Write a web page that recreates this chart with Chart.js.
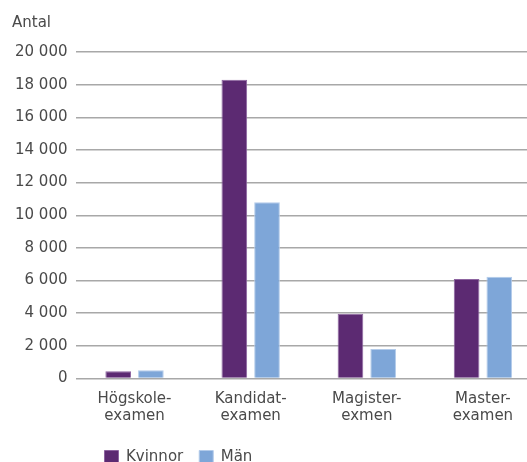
<!DOCTYPE html>
<html>
<head>
<meta charset="utf-8">
<script src="https://cdn.jsdelivr.net/npm/chart.js@4.4.1/dist/chart.umd.min.js"></script>
<style>
  html, body { margin: 0; padding: 0; background: #fff; overflow: hidden; }
  #wrap { width: 527px; height: 462px; overflow: hidden; }
</style>
</head>
<body>
<div id="wrap"><canvas id="chart" width="545" height="462"></canvas></div>
<script>
// Data
const categories = [['Högskole-', 'examen'], ['Kandidat-', 'examen'], ['Magister-', 'exmen'], ['Master-', 'examen']];
const kvinnor = [450, 18300, 3970, 6090];
const man = [510, 10800, 1800, 6240];
const yTicks = [0, 2000, 4000, 6000, 8000, 10000, 12000, 14000, 16000, 18000, 20000];

const textColor = '#4a4a4a';
const fontFamily = '"DejaVu Sans", sans-serif';

function formatNumber(v) {
    return String(v).replace(/\B(?=(\d{3})+(?!\d))/g, ' ');
}

// Move the legend so it starts under the first category, as in the reference
const legendShift = {
    id: 'legendShift',
    afterLayout(chart) {
        const legend = chart.legend;
        const w = legend.right - legend.left;
        legend.left = chart.chartArea.left + 12;
        legend.right = legend.left + w;
        legend.top += 5;
        legend.bottom += 5;
    }
};

new Chart(document.getElementById('chart').getContext('2d'), {
    type: 'bar',
    data: {
        labels: categories,
        datasets: [{
            label: 'Kvinnor',
            data: kvinnor,
            backgroundColor: '#5c2a72',
            borderColor: '#8d64a0',
            borderWidth: 1
        }, {
            label: 'Män',
            data: man,
            backgroundColor: '#7ea6d8',
            borderColor: '#b3cbea',
            borderWidth: 1
        }]
    },
    options: {
        responsive: false,
        animation: false,
        categoryPercentage: 0.563,
        barPercentage: 0.785,
        layout: { padding: { left: 12, right: 4, top: 10, bottom: -8 } },
        plugins: {
            title: {
                display: true,
                text: 'Antal',
                align: 'start',
                color: textColor,
                font: { family: fontFamily, size: 15, weight: 'normal' },
                padding: { top: 4, bottom: 20 }
            },
            legend: {
                position: 'bottom',
                align: 'start',
                labels: {
                    color: textColor,
                    font: { family: fontFamily, size: 15 },
                    boxWidth: 14,
                    boxHeight: 14,
                    padding: 16
                }
            },
            tooltip: { enabled: false }
        },
        scales: {
            x: {
                grid: { display: false },
                border: { display: false },
                ticks: {
                    color: textColor,
                    font: { family: fontFamily, size: 15, lineHeight: 1.15 },
                    padding: 4,
                    maxRotation: 0
                }
            },
            y: {
                min: 0,
                max: 20000,
                afterBuildTicks(scale) {
                    scale.ticks = yTicks.map(v => ({ value: v }));
                },
                afterFit(scale) {
                    scale.width -= 6;
                },
                grid: { color: '#a8a8a8', lineWidth: 1.5, drawTicks: false },
                border: { display: false },
                ticks: {
                    color: textColor,
                    font: { family: fontFamily, size: 15 },
                    padding: 9,
                    callback: v => formatNumber(v)
                }
            }
        }
    },
    plugins: [legendShift]
});
</script>
</body>
</html>
